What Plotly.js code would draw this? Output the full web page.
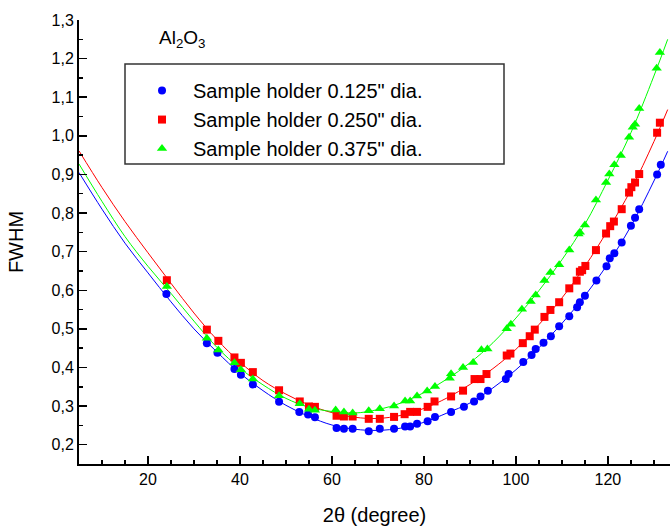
<!DOCTYPE html>
<html>
<head>
<meta charset="utf-8">
<script src="https://cdn.plot.ly/plotly-3.0.1.min.js"></script>
<style>
html, body { margin: 0; padding: 0; background: #fff; }
#chart { width: 670px; height: 526px; }
</style>
</head>
<body>
<div id="chart"></div>
<script>
// Measured points: 2theta (degree) and FWHM
const xBlue = [24.0, 32.8, 35.1, 38.8, 40.2, 42.8, 48.5, 52.9, 54.8, 56.3, 61.0, 62.6, 64.5, 68.0, 70.4, 73.5, 75.9, 77.0, 78.5, 80.8, 82.4, 85.9, 88.7, 90.9, 92.3, 93.9, 97.8, 98.4, 101.6, 103.4, 104.3, 106.0, 107.6, 109.4, 111.6, 113.3, 113.9, 115.0, 117.5, 119.7, 120.4, 121.4, 123.0, 125.0, 125.9, 126.8, 130.7, 131.5];
const yBlue = [0.590, 0.463, 0.438, 0.396, 0.381, 0.356, 0.311, 0.285, 0.278, 0.271, 0.243, 0.241, 0.241, 0.235, 0.241, 0.241, 0.247, 0.247, 0.254, 0.261, 0.272, 0.285, 0.298, 0.312, 0.325, 0.340, 0.370, 0.383, 0.414, 0.432, 0.448, 0.464, 0.481, 0.507, 0.533, 0.556, 0.569, 0.586, 0.625, 0.662, 0.683, 0.696, 0.724, 0.767, 0.788, 0.810, 0.900, 0.925];

const xRed = [24.1, 32.8, 35.3, 38.8, 40.2, 42.8, 48.5, 53.0, 55.0, 56.3, 61.0, 62.6, 64.5, 68.0, 70.4, 73.5, 75.8, 77.0, 78.5, 80.8, 82.3, 85.9, 88.5, 91.0, 92.3, 93.6, 98.0, 98.8, 101.5, 103.0, 104.1, 106.2, 107.5, 109.4, 111.6, 113.2, 113.9, 114.4, 115.1, 117.4, 119.6, 120.5, 121.3, 123.0, 124.6, 125.1, 125.9, 126.8, 130.7, 131.3];
const yRed = [0.626, 0.498, 0.469, 0.426, 0.412, 0.388, 0.341, 0.312, 0.299, 0.298, 0.275, 0.273, 0.273, 0.267, 0.267, 0.272, 0.279, 0.285, 0.285, 0.298, 0.312, 0.325, 0.340, 0.370, 0.370, 0.383, 0.431, 0.436, 0.463, 0.481, 0.498, 0.531, 0.549, 0.569, 0.605, 0.625, 0.648, 0.652, 0.663, 0.704, 0.747, 0.766, 0.778, 0.810, 0.853, 0.867, 0.879, 0.901, 1.008, 1.034];

const xGreen = [24.1, 32.8, 35.3, 38.8, 40.2, 42.8, 48.5, 53.0, 55.0, 56.3, 60.8, 62.6, 64.5, 68.0, 70.4, 73.5, 75.9, 77.0, 78.5, 80.7, 82.4, 85.6, 85.9, 88.5, 90.7, 92.5, 93.8, 98.0, 98.9, 101.3, 103.2, 104.3, 106.2, 107.5, 109.4, 111.6, 113.6, 113.9, 115.0, 117.4, 119.6, 120.3, 121.4, 122.8, 124.6, 125.4, 125.9, 126.8, 130.6, 131.3];
const yGreen = [0.610, 0.476, 0.445, 0.412, 0.394, 0.370, 0.327, 0.306, 0.292, 0.289, 0.290, 0.285, 0.282, 0.288, 0.293, 0.300, 0.313, 0.313, 0.326, 0.339, 0.351, 0.372, 0.384, 0.400, 0.413, 0.446, 0.448, 0.500, 0.512, 0.551, 0.571, 0.588, 0.625, 0.646, 0.666, 0.704, 0.746, 0.750, 0.769, 0.834, 0.879, 0.901, 0.925, 0.949, 0.996, 1.022, 1.030, 1.071, 1.175, 1.216];

// Fitted curves
const fitX = [5, 10, 15, 20, 25, 30, 35, 40, 45, 50, 55, 60, 65, 70, 75, 80, 85, 90, 95, 100, 105, 110, 115, 120, 125, 130, 133];
const fitBlue = [0.905, 0.810, 0.722, 0.645, 0.570, 0.500, 0.440, 0.385, 0.340, 0.302, 0.273, 0.251, 0.240, 0.237, 0.243, 0.258, 0.282, 0.308, 0.347, 0.394, 0.451, 0.514, 0.586, 0.669, 0.766, 0.883, 0.960];
const fitRed = [0.961, 0.866, 0.778, 0.697, 0.618, 0.541, 0.472, 0.414, 0.366, 0.331, 0.303, 0.283, 0.271, 0.268, 0.276, 0.294, 0.321, 0.356, 0.397, 0.447, 0.511, 0.580, 0.662, 0.756, 0.860, 0.985, 1.068];
const fitGreen = [0.927, 0.830, 0.739, 0.662, 0.592, 0.520, 0.452, 0.398, 0.355, 0.320, 0.297, 0.286, 0.282, 0.291, 0.308, 0.335, 0.370, 0.412, 0.464, 0.528, 0.599, 0.679, 0.771, 0.885, 1.008, 1.155, 1.250];

const names = ['Sample holder 0.125" dia.', 'Sample holder 0.250" dia.', 'Sample holder 0.375" dia.'];
const colors = ['#0000FF', '#FF0000', '#00FF00'];

const FONT = 'Liberation Sans, Arial, sans-serif';

const traces = [
  {x: fitX, y: fitBlue, mode: 'lines', line: {color: colors[0], width: 1, shape: 'spline'}, showlegend: false, hoverinfo: 'skip'},
  {x: fitX, y: fitRed, mode: 'lines', line: {color: colors[1], width: 1, shape: 'spline'}, showlegend: false, hoverinfo: 'skip'},
  {x: fitX, y: fitGreen, mode: 'lines', line: {color: colors[2], width: 1, shape: 'spline'}, showlegend: false, hoverinfo: 'skip'},
  {x: xBlue, y: yBlue, name: names[0], mode: 'markers', marker: {symbol: 'circle', size: 8, color: colors[0]}},
  {x: xRed, y: yRed, name: names[1], mode: 'markers', marker: {symbol: 'square', size: 8, color: colors[1]}},
  {x: xGreen, y: yGreen, name: names[2], mode: 'markers', marker: {symbol: 'triangle-up', size: 9, color: colors[2]}}
];

const layout = {
  width: 670, height: 526,
  margin: {l: 79, r: 0, t: 20, b: 62},
  paper_bgcolor: '#fff', plot_bgcolor: '#fff',
  separators: ',.',
  font: {family: FONT, size: 16, color: '#000'},
  xaxis: {
    range: [5, 133.5], showgrid: false, zeroline: false,
    showline: true, linecolor: '#000', linewidth: 2,
    ticks: 'inside', ticklen: 8, tickwidth: 1.5, tickcolor: '#000',
    tick0: 0, dtick: 20,
    minor: {ticks: 'inside', ticklen: 4, tickwidth: 1.5, tickcolor: '#000', dtick: 5, showgrid: false},
    tickfont: {family: FONT, size: 16, color: '#000'},
    title: {text: '2θ (degree)', font: {family: FONT, size: 20, color: '#000'}, standoff: 22}
  },
  yaxis: {
    range: [0.15, 1.3], showgrid: false, zeroline: false,
    showline: true, linecolor: '#000', linewidth: 2,
    ticks: 'inside', ticklen: 8, tickwidth: 1.5, tickcolor: '#000',
    tick0: 0, dtick: 0.1, tickformat: '.1f',
    minor: {ticks: 'inside', ticklen: 4, tickwidth: 1.5, tickcolor: '#000', dtick: 0.05, showgrid: false},
    tickfont: {family: FONT, size: 16, color: '#000'},
    title: {text: 'FWHM', font: {family: FONT, size: 20, color: '#000'}, standoff: 23}
  },
  legend: {
    x: 0.088, xanchor: 'left', y: 0.885, yanchor: 'top',
    bgcolor: 'rgba(0,0,0,0)', borderwidth: 0,
    font: {family: FONT, size: 20, color: '#000'},
    itemwidth: 52, tracegroupgap: 0
  },
  shapes: [{
    type: 'rect', xref: 'paper', yref: 'paper',
    x0: (125 - 79) / 591, x1: (504 - 79) / 591,
    y0: (464 - 164) / 444, y1: (464 - 64) / 444,
    line: {color: '#333', width: 1.5}, fillcolor: 'rgba(0,0,0,0)', layer: 'above'
  }],
  annotations: [{
    x: 21.9, y: 1.25, xref: 'x', yref: 'y', xanchor: 'left', yanchor: 'middle',
    text: 'Al<sub>2</sub>O<sub>3</sub>', showarrow: false,
    font: {family: FONT, size: 19, color: '#000'}
  }]
};

Plotly.newPlot('chart', traces, layout, {displayModeBar: false, staticPlot: true});
</script>
</body>
</html>
